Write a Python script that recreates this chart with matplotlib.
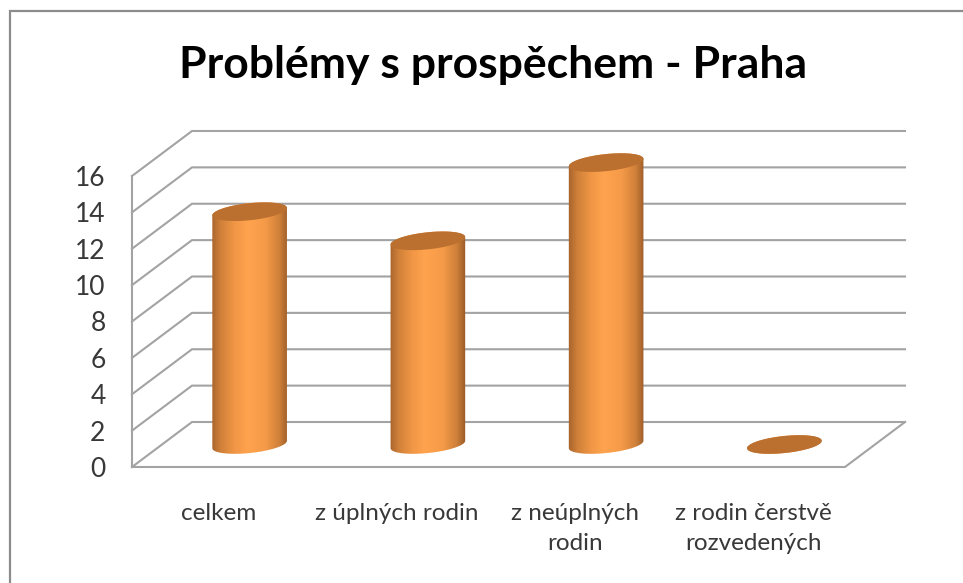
import matplotlib
matplotlib.use("Agg")
import matplotlib.pyplot as plt
from matplotlib.colors import LinearSegmentedColormap
from matplotlib.lines import Line2D
from matplotlib.patches import Polygon
import numpy as np

categories = ["celkem", "z úplných rodin", "z neúplných\nrodin", "z rodin čerstvě\nrozvedených"]
values = [12.8, 11.2, 15.5, 0]
y_ticks = [0, 2, 4, 6, 8, 10, 12, 14, 16]
title = "Problémy s prospěchem - Praha"

W, H = 963, 583
GRID = "#a3a3a3"
TOP = "#bb7030"
RX, RY = 37.5, 8.5
TILT = np.radians(6)

# front plane of the fake 3D box, in pixels
left, right, bottom, top = 132, 845, 467, 176
x_unit = (right - left) / len(categories)
y_unit = (bottom - top) / 16
# depth of the box, in data units
depth_x = 60 / x_unit
depth_y = 45 / y_unit

body_cmap = LinearSegmentedColormap.from_list(
    "cyl", [(0, "#a5622c"), (0.12, "#cf8039"), (0.3, "#f09645"), (0.47, "#ffa34e"),
            (0.7, "#f59a48"), (0.88, "#cf8039"), (1, "#995a28")])


def ellipse(cx, cy, t):
    # tilted ellipse, radii in pixels, returns data coordinates
    ex = RX * np.cos(t) * np.cos(TILT) - RY * np.sin(t) * np.sin(TILT)
    ey = RX * np.cos(t) * np.sin(TILT) + RY * np.sin(t) * np.cos(TILT)
    return cx + ex / x_unit, cy + ey / y_unit


fig = plt.figure(figsize=(W / 100, H / 100), dpi=100, facecolor="white")
ax = fig.add_axes([left / W, 1 - bottom / H, (right - left) / W, (bottom - top) / H])
ax.set_xlim(0, len(categories))
ax.set_ylim(0, 16)
ax.patch.set_visible(False)
for s in ax.spines.values():
    s.set_visible(False)

# walls and floor
n = len(categories)
for v in y_ticks:
    ax.plot([0, depth_x, n + depth_x], [v, v + depth_y, v + depth_y],
            color=GRID, lw=1.5, clip_on=False, zorder=1, solid_joinstyle="miter")
ax.plot([0, 0], [0, 16], color=GRID, lw=1.5, clip_on=False, zorder=1)
ax.plot([0, n, n + depth_x], [0, 0, depth_y], color=GRID, lw=1.5, clip_on=False, zorder=1)

# cylinders sit in the middle of the depth
t0 = np.arctan2(-RY * np.sin(TILT), RX * np.cos(TILT))
gradient = np.linspace(0, 1, 256).reshape(1, -1)
for i, v in enumerate(values):
    cx = i + 0.5 + depth_x / 2 - 1.5 / x_unit
    base = depth_y / 2
    tx, ty = ellipse(cx, base + v, np.linspace(t0, t0 + np.pi, 60))
    bx, by = ellipse(cx, base, np.linspace(t0 + np.pi, t0 + 2 * np.pi, 60))
    outline = Polygon(np.column_stack([np.r_[tx, bx], np.r_[ty, by]]), closed=True,
                      transform=ax.transData, fc="none", ec="none")
    ax.add_patch(outline)
    half = (RX + 1) / x_unit
    im = ax.imshow(gradient, cmap=body_cmap, aspect="auto", zorder=3,
                   extent=[cx - half, cx + half, base - 1, base + v + 1])
    im.set_clip_box(fig.bbox)
    im.set_clip_path(outline)
    ex, ey = ellipse(cx, base + v, np.linspace(0, 2 * np.pi, 120))
    ax.fill(ex, ey, color=TOP, lw=0, zorder=4, clip_on=False)

ax.set_xlim(0, n)
ax.set_ylim(0, 16)

ax.set_xticks(np.arange(n) + 0.485, categories, fontsize=17.5, family="Lato",
              color="#383838", linespacing=1.55)
ax.set_yticks(y_ticks, [str(v) for v in y_ticks], fontsize=19, family="Lato", color="#383838")
ax.tick_params(axis="x", length=0, pad=26)
ax.tick_params(axis="y", length=0, pad=19)
for label in ax.get_yticklabels():
    label.set_verticalalignment("center_baseline")

fig.text(493 / W, 1 - 65 / H, title, ha="center", va="center", fontsize=32,
         fontweight="bold", family="Lato", color="black")

# chart frame, only top and left are inside the picture
fig.add_artist(Line2D([10 / W, 10 / W, 1], [0, 1 - 11 / H, 1 - 11 / H], color="#8c8c8c", lw=1.6,
                      solid_joinstyle="miter"))

fig.savefig("out.png", dpi=100)
